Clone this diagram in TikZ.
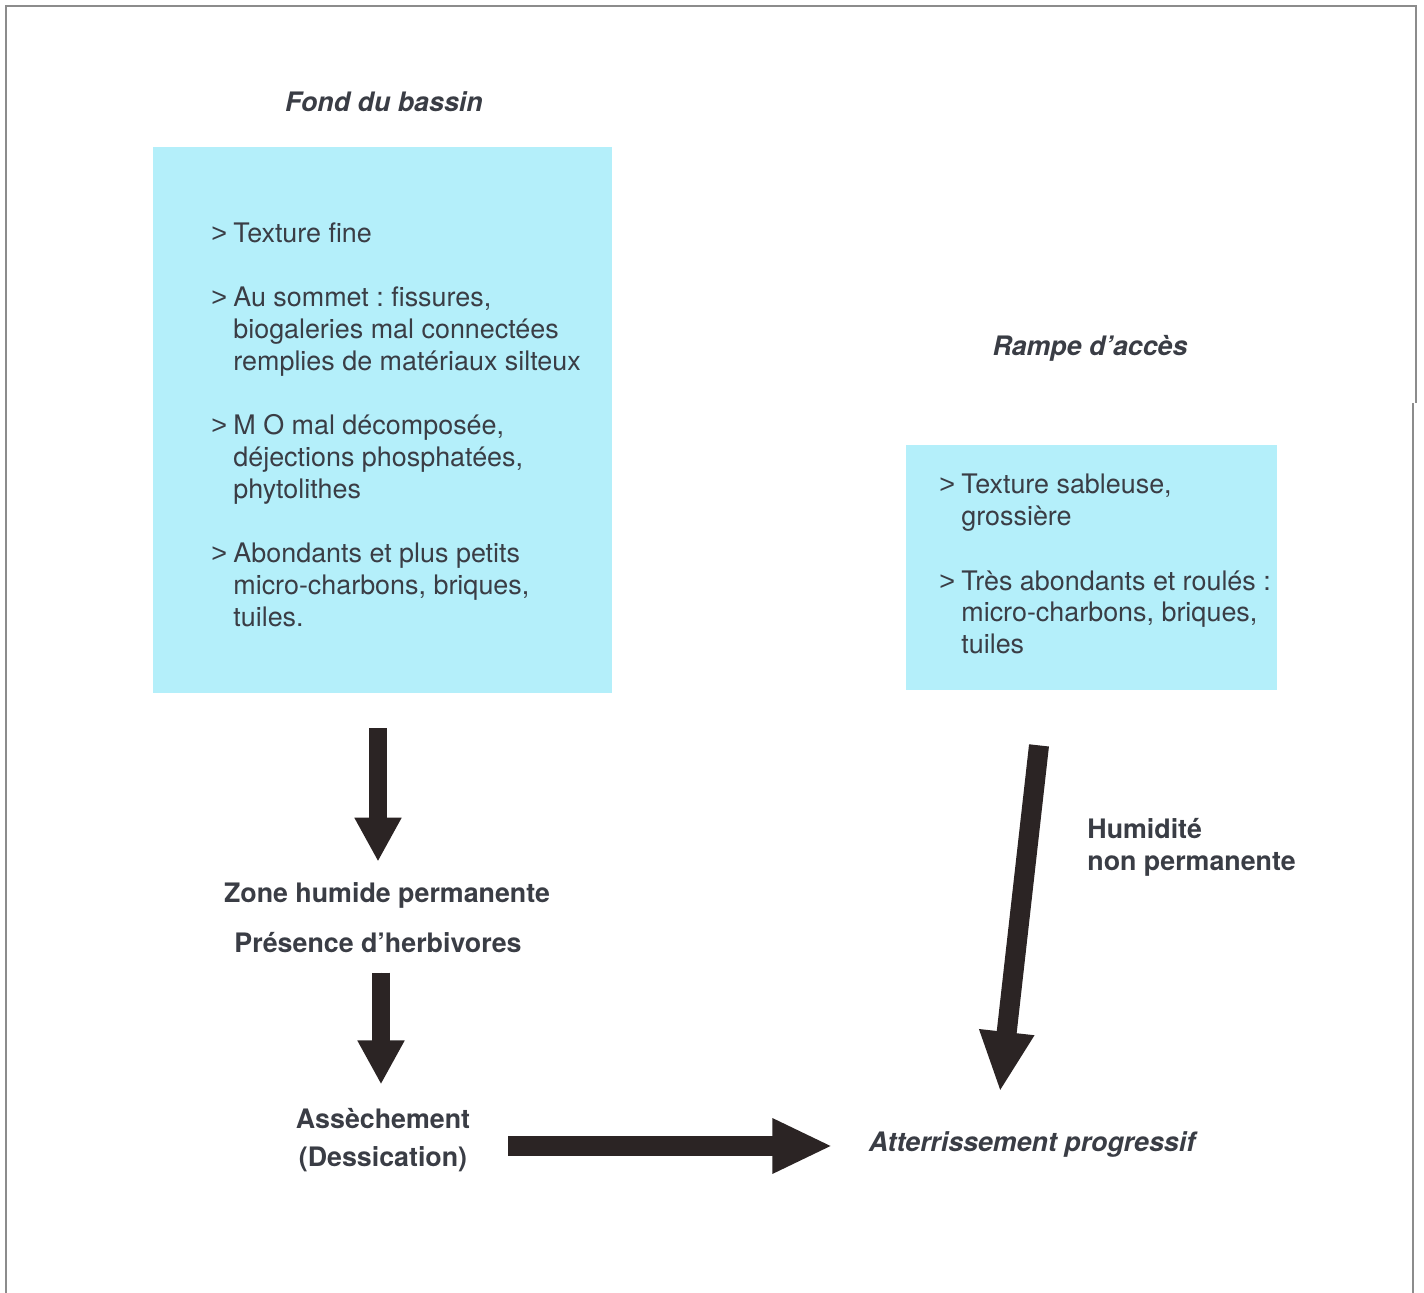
\documentclass[tikz,border=0pt]{standalone}
\usepackage{fontspec}
\setmainfont{TeX Gyre Heros}
\newfontfamily\markfont{Liberation Sans}
\frenchspacing
\usetikzlibrary{arrows.meta,calc}
\definecolor{boxcyan}{HTML}{B4EFFA}
\definecolor{inkgray}{HTML}{3A3D45}
\definecolor{arrowink}{HTML}{2B2424}
\definecolor{framegray}{HTML}{8C8C8C}
\newcommand{\mk}{\makebox[11pt][l]{\markfont >}}
\newcommand{\ind}{\hspace*{11pt}}
\tikzset{
  panel/.style={fill=boxcyan, draw=none, inner sep=0pt},
  body/.style={inner sep=0pt, align=left, text=inkgray, font=\fontsize{13.45}{16}\selectfont},
  heading/.style={inner sep=0pt, text=inkgray, font=\fontsize{13.4}{16}\selectfont\bfseries\itshape},
  label/.style={inner sep=0pt, text=inkgray, font=\fontsize{13.4}{19}\selectfont\bfseries},
  thinarr/.style={draw=arrowink, fill=arrowink, line width=9pt, -{Triangle[width=22pt,length=22pt]}},
  widearr/.style={draw=arrowink, fill=arrowink, line width=10pt, -{Triangle[width=25.5pt,length=30pt]}}
}
\begin{document}
\begin{tikzpicture}[x=0.5pt,y=-0.5pt]
  % page and frame
  \fill[white] (0,0) rectangle (1424,1293);
  \useasboundingbox (0,0) rectangle (1424,1293);
  \draw[framegray, line width=1pt] (6,1293) -- (6,6) -- (1416,6) -- (1416,403);
  \draw[framegray, line width=1pt] (1413,403) -- (1413,1293);

  % column headings
  \node[heading, anchor=base] (fondtitle) at (384,112) {Fond du bassin};
  \node[heading, anchor=base] (rampetitle) at (1090,356) {Rampe d’accès};

  % cyan panels
  \node[panel, minimum width=229.5pt, minimum height=273pt] (boxL) at (382.5,420) {};
  \node[panel, minimum width=185.5pt, minimum height=122.5pt] (boxR) at (1091.5,567.5) {};

  % panel contents (base anchor = baseline of the last line)
  \node[body, anchor=base west] (fondtxt) at (211,627) {%
    \mk Texture fine\\[16pt]
    \mk Au sommet : fissures,\\
    \ind biogaleries mal connectées\\
    \ind remplies de matériaux silteux\\[16pt]
    \mk M O mal décomposée,\\
    \ind déjections phosphatées,\\
    \ind phytolithes\\[16pt]
    \mk Abondants et plus petits\\
    \ind micro-charbons, briques,\\
    \ind tuiles.};
  \node[body, anchor=base west] (rampetxt) at (939,654) {%
    \mk Texture sableuse,\\
    \ind grossière\\[16pt]
    \mk Très abondants et roulés :\\
    \ind micro-charbons, briques,\\
    \ind tuiles};

  % labels
  \node[label, anchor=base] (zone) at (387,902) {Zone humide permanente};
  \node[label, anchor=base] (herb) at (378,952) {Présence d’herbivores};
  \node[label, anchor=base, align=center] (assech) at (383,1166) {Assèchement\\(Dessication)};
  \node[heading, anchor=base] (atter) at (1032,1151) {Atterrissement progressif};
  \node[label, anchor=base west, align=left, font=\fontsize{13.4}{16}\selectfont\bfseries] (humid) at (1087,870) {Humidité\\non permanente};

  % block arrows
  \draw[thinarr] ($(boxL.south -| herb.base)+(0,35)$) -- ($(zone.north -| herb.base)+(0,-20)$);
  \draw[thinarr] ($(herb.south)+(3,20)$) -- ($(assech.north)+(-2,-23)$);
  \draw[widearr] ($(boxR.south)+(-52.5,55)$) -- ($(atter.north)+(-32,-39)$);
  \path ($(atter.west)+(-360,2)$) coordinate (hstart)
        ($(atter.west)+(-36,2)$) coordinate (hend);
  \draw[widearr] (hstart) -- (hend);
\end{tikzpicture}
\end{document}
